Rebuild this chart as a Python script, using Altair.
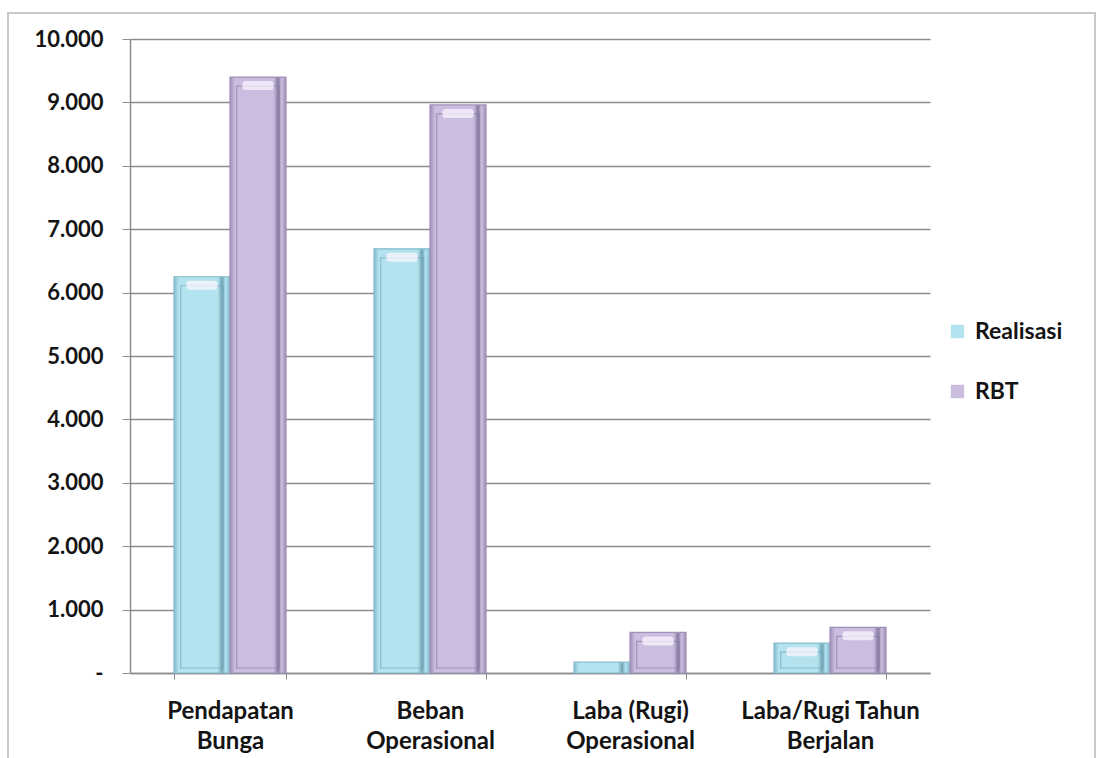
import altair as alt
import pandas as pd

categories = ["Pendapatan Bunga", "Beban Operasional", "Laba (Rugi) Operasional", "Laba/Rugi Tahun Berjalan"]
label_lines = [["Pendapatan", "Bunga"], ["Beban", "Operasional"], ["Laba (Rugi)", "Operasional"], ["Laba/Rugi Tahun", "Berjalan"]]
series = ["Realisasi", "RBT"]
realisasi = [6250, 6690, 170, 470]
rbt = [9400, 8960, 640, 720]
y_ticks = [0, 1000, 2000, 3000, 4000, 5000, 6000, 7000, 8000, 9000, 10000]

rows = []
for c, r, b in zip(categories, realisasi, rbt):
    rows.append({"category": c, "series": "Realisasi", "value": r})
    rows.append({"category": c, "series": "RBT", "value": b})
df = pd.DataFrame(rows)

FONT = "Lato"
H = 634
U = 10000 / H  # value units per pixel
main_colors = {"Realisasi": "#b3e3ef", "RBT": "#cbbde0"}
edge_colors = {"Realisasi": "#86bccd", "RBT": "#9f90b8"}
dark_colors = {"Realisasi": "#6fa3b4", "RBT": "#857aa0"}
side = {"Realisasi": -1, "RBT": 1}

label_expr = " : ".join(
    f"datum.value == '{c}' ? ['{l[0]}', '{l[1]}']" for c, l in zip(categories, label_lines)
) + " : datum.label"

x_scale = alt.Scale(domain=categories, paddingInner=0.44, paddingOuter=0.22)
x_enc = alt.X(
    "category:N", sort=categories, title=None, scale=x_scale,
    axis=alt.Axis(labelExpr=label_expr, labelAngle=0, labelFont=FONT, labelFontSize=24,
                  labelFontWeight="bold", labelColor="#141414", labelPadding=20,
                  labelLineHeight=30, tickBand="extent", tickSize=6, tickColor="#8c8c8c",
                  domainColor="#8c8c8c", domainWidth=1.5, grid=False),
)
xo_enc = alt.XOffset("series:N", sort=series,
                     scale=alt.Scale(domain=series, paddingInner=0, paddingOuter=0))
y_enc = alt.Y(
    "value:Q", title=None,
    scale=alt.Scale(domain=[0, 10000], nice=False),
    axis=alt.Axis(values=y_ticks,
                  labelExpr="datum.value == 0 ? '-' : replace(format(datum.value, ',.0f'), ',', '.')",
                  labelFont=FONT, labelFontSize=22, labelFontWeight="bold", labelColor="#141414",
                  labelPadding=19, tickSize=8, tickColor="#8c8c8c", domainColor="#8c8c8c",
                  domainWidth=1.5, gridColor="#8c8c8c", gridWidth=1.3),
)

base = alt.Chart(df).encode(x=x_enc, xOffset=xo_enc)

legend_layer = base.mark_bar().encode(
    y=y_enc,
    color=alt.Color("series:N", sort=series,
                    scale=alt.Scale(domain=series, range=[main_colors[s] for s in series]),
                    legend=alt.Legend(orient="none", legendX=816, legendY=281, title=None,
                                      symbolType="square", symbolSize=180, symbolStrokeWidth=0,
                                      labelFont=FONT, labelFontSize=23, labelFontWeight="bold",
                                      labelColor="#141414", rowPadding=36, labelOffset=6))
)

BW = 56  # pixel width of one bar (half of the 112 px group)
layers = [legend_layer]
for s in series:
    grad = alt.Gradient(
        gradient="linear", x1=0, x2=1, y1=0, y2=0,
        stops=[
            alt.GradientStop(offset=0.0, color=edge_colors[s]),
            alt.GradientStop(offset=0.09, color=main_colors[s]),
            alt.GradientStop(offset=0.2, color=main_colors[s]),
            alt.GradientStop(offset=0.55, color=main_colors[s]),
            alt.GradientStop(offset=0.78, color=main_colors[s]),
            alt.GradientStop(offset=0.86, color=dark_colors[s]),
            alt.GradientStop(offset=0.92, color=main_colors[s]),
            alt.GradientStop(offset=1.0, color=edge_colors[s]),
        ],
    )
    sub = base.transform_filter(alt.datum.series == s)
    layers.append(sub.mark_bar(color=grad, stroke=edge_colors[s], strokeWidth=1.2).encode(y=y_enc))

    inner = alt.Chart(df).transform_filter(alt.datum.series == s).transform_filter(
        alt.datum.value > 300).transform_calculate(
        itop=f"datum.value - {9 * U}", ibot=f"{5 * U}",
        htop=f"datum.value - {4 * U}", hbot=f"datum.value - {13 * U}",
    )
    layers.append(
        inner.mark_bar(width={"band": 0.76 * BW / 112}, xOffset=side[s] * BW / 2, fillOpacity=0,
                       stroke=dark_colors[s], strokeOpacity=0.6, strokeWidth=1.2)
        .encode(x=x_enc, y=alt.Y("itop:Q"), y2=alt.Y2("ibot:Q"))
    )
    layers.append(
        inner.mark_bar(width={"band": 0.56 * BW / 112}, xOffset=side[s] * BW / 2, color="#fbf6ff",
                       opacity=0.75, cornerRadius=3)
        .encode(x=x_enc, y=alt.Y("htop:Q"), y2=alt.Y2("hbot:Q"))
    )

frame = alt.Chart(pd.DataFrame({"a": [0]})).mark_rect(
    fillOpacity=0, stroke="#c8c8c8", strokeWidth=2
).encode(x=alt.value(-122), x2=alt.value(965), y=alt.value(-26), y2=alt.value(800))

chart = alt.layer(frame, *layers).properties(
    width=800, height=H,
    autosize=alt.AutoSizeParams(type="none"),
    padding={"left": 130, "top": 39, "right": 168, "bottom": 85},
    background="white",
).configure_view(stroke=None)

chart.save("out.html", embed_options={"renderer": "svg", "actions": False})
